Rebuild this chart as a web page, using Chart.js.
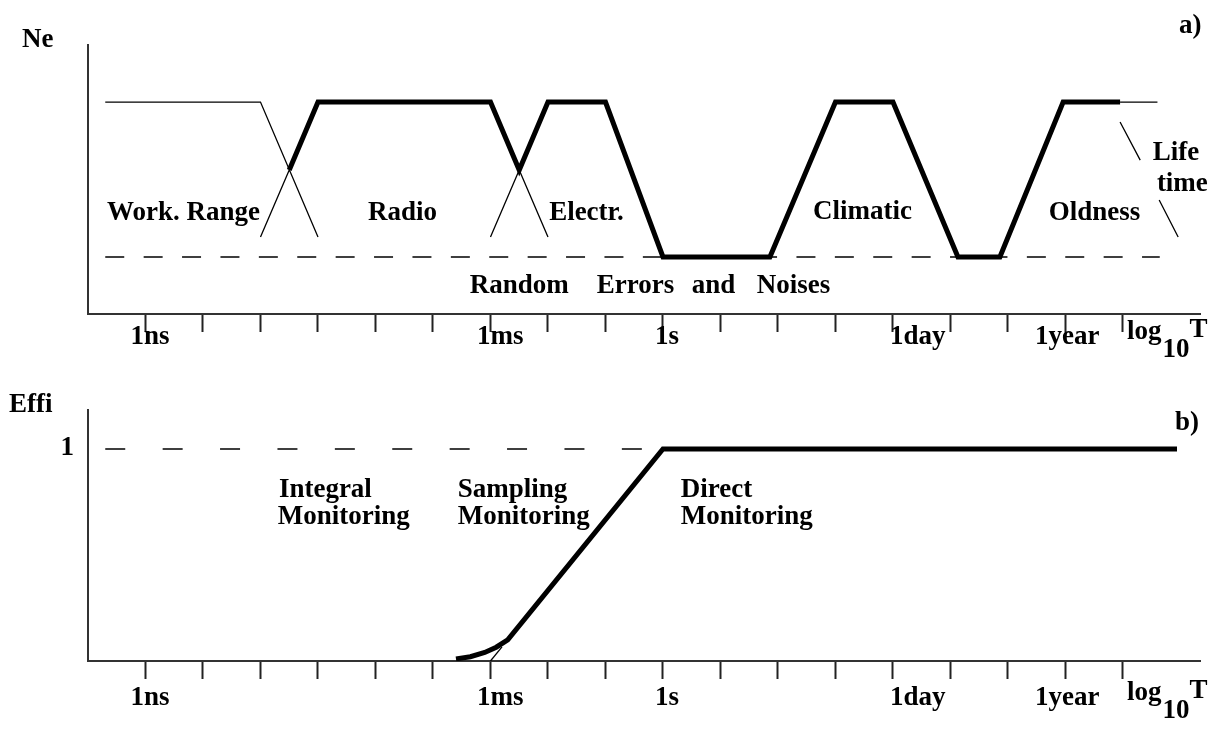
<!DOCTYPE html>
<html>
<head>
<meta charset="utf-8">
<script src="https://cdn.jsdelivr.net/npm/chart.js@4.4.1/dist/chart.umd.min.js"></script>
<style>
  html, body { margin: 0; padding: 0; background: #fff; }
  #wrap { position: relative; width: 1224px; height: 732px; }
  canvas { position: absolute; left: 0; }
  #chartA { top: 0; }
  #chartB { top: 366px; }
</style>
</head>
<body>
<div id="wrap">
  <canvas id="chartA" width="1224" height="366"></canvas>
  <canvas id="chartB" width="1224" height="366"></canvas>
</div>
<script>
// x values are log10 of time in seconds
const decadeTicks = [-9, -8, -7, -6, -5, -4, -3, -2, -1, 0, 1, 2, 3, 4, 5, 6, 7, 8];
const timeLabels = ["1ns", "1ms", "1s", "1day", "1year"];
const timeLabelAt = [-8.92, -2.83, 0.07, 4.43, 7.03];

// panel a) - Ne
const neMainX = [-6.5, -6, -3, -2.5, -2, -1, 0, 1.86, 3, 4, 5.13, 5.86, 6.96, 7.95];
const neMainY = [53.5, 78.8, 78.8, 53.5, 78.8, 78.8, 21.2, 21.2, 78.8, 78.8, 21.2, 21.2, 78.8, 78.8];
const neThinX = [-9.7, -7, -6, -6, -7, -6.5, -6.5, -2.5, -2, -2, -3, -2.5, -2.5, 7.95, 8.6];
const neThinY = [78.8, 78.8, 28.6, null, 28.6, 53.5, null, 53.5, 28.6, null, 28.6, 53.5, null, 78.8, 78.8];
const lifeX = [7.95, 8.3, 8.3, 8.63, 8.96];
const lifeY = [71.4, 57.2, null, 42.4, 28.6];
const noiseX = [-9.7, 8.64];
const noiseY = [21.2, 21.2];
const neLabels = ["Work. Range", "Radio", "Electr.", "Climatic", "Oldness", "Life", "time",
                  "Random", "Errors", "and", "Noises"];

// panel b) - Effi
const effiX = [-3.6, -3.35, -3.1, -2.9, -2.7, 0, 8.94];
const effiY = [0.01, 0.02, 0.04, 0.065, 0.1, 1, 1];
const effiThinX = [-3, -2.8];
const effiThinY = [0, 0.067];
const fullX = [-9.7, 0];
const fullY = [1, 1];
const effiLabels = ["Integral", "Monitoring", "Sampling", "Monitoring", "Direct", "Monitoring"];

// where the texts go (data coords)
const neLabelAt = [[-9.67, 34.9], [-5.13, 34.9], [-1.98, 34.9], [2.61, 35.3], [6.71, 34.9],
                   [8.52, 57.2], [8.59, 45.7], [-3.36, 7.8], [-1.15, 7.8], [0.5, 7.8], [1.63, 7.8]];
const effiLabelAt = [[-6.68, 0.774], [-6.7, 0.646], [-3.57, 0.774], [-3.57, 0.646], [0.31, 0.774], [0.31, 0.646]];

const FONT = 'bold 27px "Liberation Serif", "DejaVu Serif", serif';
const INK = "#000";

function pts(xs, ys) {
  return xs.map((x, i) => ({ x: x, y: ys[i] }));
}

function lineSet(xs, ys, width, dash) {
  return {
    data: pts(xs, ys),
    borderColor: INK,
    borderWidth: width,
    borderDash: dash || [],
    pointRadius: 0,
    tension: 0,
    spanGaps: false,
    borderJoinStyle: "miter",
    fill: false
  };
}

function textPlugin(opts) {
  return {
    id: "texts" + opts.name,
    afterDraw(chart) {
      const { ctx, scales: { x, y }, chartArea } = chart;
      ctx.save();
      ctx.fillStyle = INK;
      ctx.font = FONT;
      ctx.textBaseline = "alphabetic";
      // region texts
      ctx.textAlign = "left";
      opts.labels.forEach((t, i) => {
        const p = opts.at[i];
        ctx.fillText(t, x.getPixelForValue(p[0]), y.getPixelForValue(p[1]));
      });
      // time labels under the axis
      const base = chartArea.bottom + opts.tickLabelDy;
      ctx.textAlign = "center";
      timeLabels.forEach((t, i) => {
        ctx.fillText(t, x.getPixelForValue(timeLabelAt[i]), base);
      });
      // log10 T
      ctx.textAlign = "left";
      let lx = x.getPixelForValue(8.07);
      ctx.fillText("log", lx, base - 5);
      lx += ctx.measureText("log").width + 1;
      ctx.fillText("10", lx, base + 13);
      lx += ctx.measureText("10").width;
      ctx.fillText("T", lx, base - 7);
      // axis name and panel tag
      ctx.fillText(opts.axisName, opts.axisNameX, opts.axisNameY);
      ctx.fillText(opts.tag, opts.tagX, opts.tagY);
      if (opts.extra) opts.extra(chart);
      ctx.restore();
    }
  };
}

function baseOptions(yMax, padBottom, padTop) {
  return {
    responsive: false,
    animation: false,
    devicePixelRatio: 1,
    layout: { padding: { left: 88, right: 24, top: padTop, bottom: padBottom } },
    plugins: { legend: { display: false }, tooltip: { enabled: false } },
    scales: {
      x: {
        type: "linear",
        min: -10,
        max: 9.34,
        afterBuildTicks: s => { s.ticks = decadeTicks.map(v => ({ value: v })); },
        ticks: { display: false },
        grid: { drawOnChartArea: false, drawTicks: true, tickLength: 18, tickColor: "#222", tickWidth: 2 },
        border: { display: true, color: "#333", width: 2 }
      },
      y: {
        type: "linear",
        min: 0,
        max: yMax,
        ticks: { display: false },
        grid: { display: false, drawTicks: false },
        border: { display: true, color: "#333", width: 2 }
      }
    }
  };
}

new Chart(document.getElementById("chartA"), {
  type: "line",
  data: {
    datasets: [
      lineSet(noiseX, noiseY, 1.5, [19, 19.4]),
      lineSet(neThinX, neThinY, 1.3),
      lineSet(lifeX, lifeY, 1.3),
      lineSet(neMainX, neMainY, 5)
    ]
  },
  options: baseOptions(100, 34, 45),
  plugins: [textPlugin({
    name: "A", labels: neLabels, at: neLabelAt, tickLabelDy: 30,
    axisName: "Ne", axisNameX: 22, axisNameY: 47,
    tag: "a)", tagX: 1179, tagY: 33
  })]
});

new Chart(document.getElementById("chartB"), {
  type: "line",
  data: {
    datasets: [
      lineSet(fullX, fullY, 1.5, [20, 37.4]),
      lineSet(effiThinX, effiThinY, 1.3),
      lineSet(effiX, effiY, 5)
    ]
  },
  options: baseOptions(1.184, 53, 44),
  plugins: [textPlugin({
    name: "B", labels: effiLabels, at: effiLabelAt, tickLabelDy: 44,
    axisName: "Effi", axisNameX: 9, axisNameY: 46,
    tag: "b)", tagX: 1175, tagY: 64,
    extra(chart) {
      const { ctx, scales: { y }, chartArea } = chart;
      ctx.textAlign = "right";
      ctx.fillText("1", chartArea.left - 14, y.getPixelForValue(1) + 6);
    }
  })]
});
</script>
</body>
</html>
